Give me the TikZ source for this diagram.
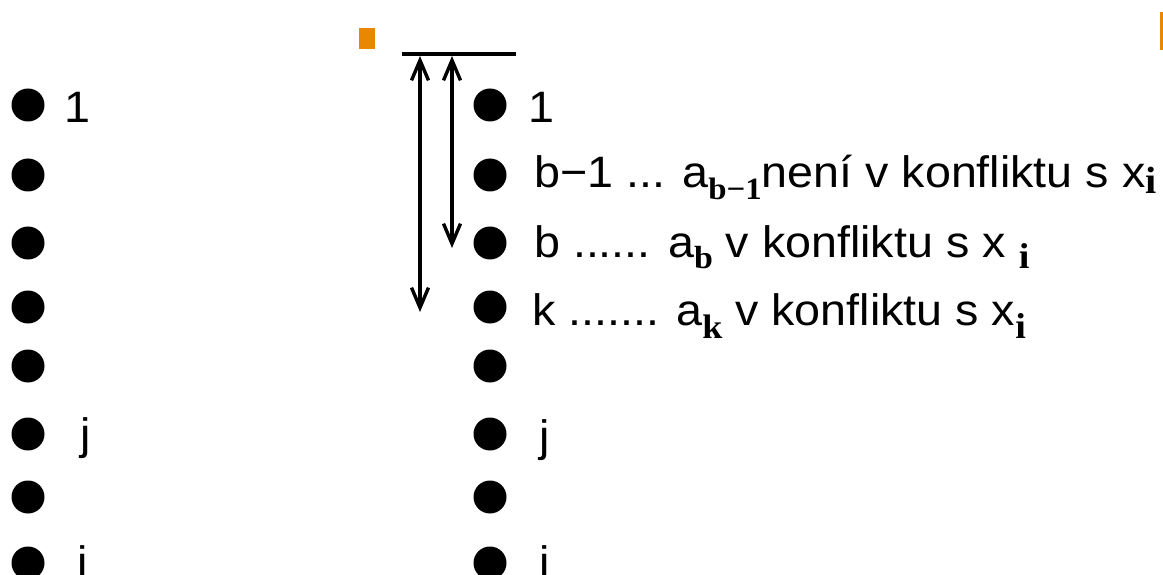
\documentclass[tikz,border=0pt]{standalone}
\usepackage{fontspec}
\setmainfont{Liberation Sans}[FakeStretch=1.06]
\newfontfamily\serifb{Liberation Serif}[FakeStretch=1.06]
\usetikzlibrary{arrows.meta}
\definecolor{accent}{RGB}{234,135,0}
\newcommand\sbs[3]{\raisebox{-#2pt}{\fontsize{#1pt}{#1pt}\selectfont\serifb\bfseries #3}}
\tikzset{
  dot/.style={circle,fill=black,inner sep=0pt,minimum size=33pt},
  lbl/.style={anchor=base west,inner sep=0pt,font=\fontsize{44pt}{44pt}\selectfont},
  barb/.tip={Straight Barb[length=20pt,width=17pt,line width=3.4pt]},
  dbl/.style={line width=3.4pt,barb-barb}
}
\begin{document}
\begin{tikzpicture}[x=1pt,y=-1pt]
\useasboundingbox (0,0) rectangle (1163,575);
% orange marks
\fill[accent] (359,28) rectangle (375,49);
\fill[accent] (1160,12) rectangle (1163,50);
% top bar
\coordinate (barL) at (402,54);
\coordinate (barR) at (516,54);
\draw[line width=4.5pt] (barL) -- (barR);
\coordinate (a1t) at (420,56);
\coordinate (a1b) at (420,312);
\coordinate (a2t) at (452,56);
\coordinate (a2b) at (452,248);
\draw[dbl] (a1t) -- (a1b);
\draw[dbl] (a2t) -- (a2b);
% bullets
\foreach \n/\y in {1/105,2/175,3/243,4/307,5/366,6/434,7/497,8/563}{
  \node[dot] (L\n) at (28,\y) {};
  \node[dot] (R\n) at (490,\y) {};
}
% left labels
\node[lbl] (tL1) at (64,123) {1};
\node[lbl] (tL6) at (80,449) {j};
\node[lbl] (tL8) at (77,577) {i};
% right labels
\node[lbl] (tR1) at (528,123) {1};
\node[lbl] (tR2) at (534,188) {b−1 ... a\sbs{31}{12}{b−1}není v konfliktu s x\sbs{38}{6}{i}};
\node[lbl] (tR3) at (534,258) {b ...... a\sbs{32}{11}{b} v konfliktu s x \sbs{36}{10}{i}};
\node[lbl] (tR4) at (532,325) {k ....... a\sbs{34}{13}{k} v konfliktu s x\sbs{36}{13}{i}};
\node[lbl] (tR6) at (539,451) {j};
\node[lbl] (tR8) at (539,577) {i};
\end{tikzpicture}
\end{document}
